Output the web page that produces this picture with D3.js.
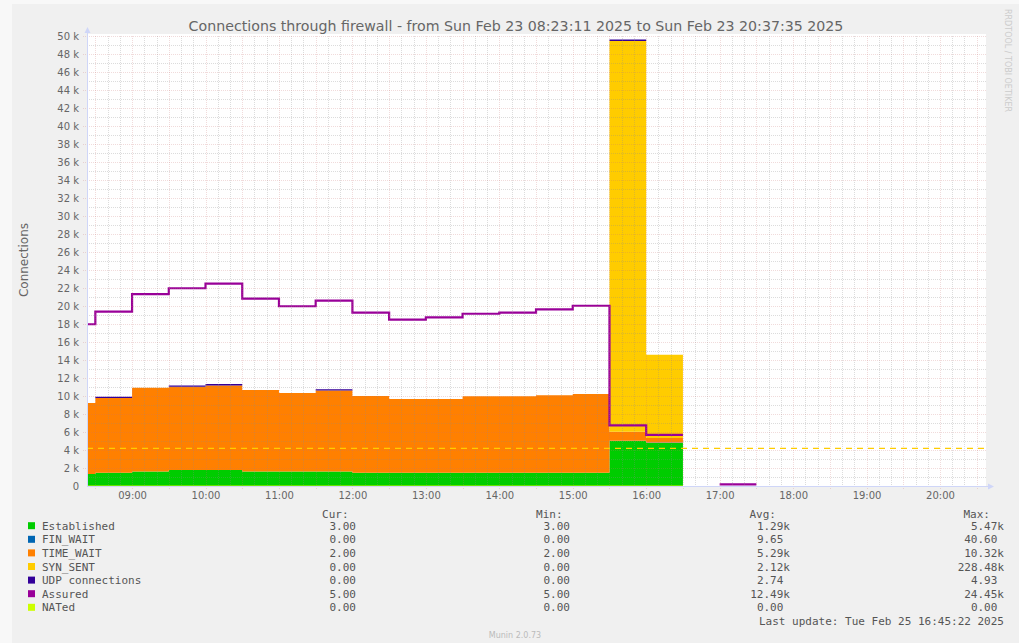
<!DOCTYPE html>
<html>
<head>
<meta charset="utf-8">
<script src="https://cdn.jsdelivr.net/npm/d3@7/dist/d3.min.js"></script>
<style>
  body { margin: 0; background: #f8f8f8; }
  svg { display: block; }
</style>
</head>
<body>
<svg id="chart" width="1019" height="643"></svg>
<script>
// 30 minute buckets (start times), Sun Feb 23 2025
var bucketStarts = ["08:00", "08:30", "09:00", "09:30", "10:00", "10:30", "11:00", "11:30", "12:00",
  "12:30", "13:00", "13:30", "14:00", "14:30", "15:00", "15:30", "16:00", "16:30", "17:00"];

var established = [1330, 1480, 1600, 1780, 1780, 1600, 1600, 1600, 1470, 1470, 1470, 1470, 1470, 1470, 1470, 5000, 4780, null, null];
var finWait     = [0, 0, 0, 0, 0, 0, 0, 0, 0, 0, 0, 0, 0, 0, 0, 30, 40, null, null];
var timeWait    = [7890, 8300, 9320, 9250, 9400, 9070, 8730, 9000, 8530, 8200, 8200, 8500, 8500, 8610, 8750, 1000, 500, null, null];
var synSent     = [0, 0, 0, 0, 0, 0, 0, 0, 0, 0, 0, 0, 0, 0, 0, 43420, 9250, null, null];
var udp         = [0, 150, 0, 150, 150, 0, 0, 150, 0, 0, 0, 0, 0, 0, 0, 150, 0, null, null];
var assured     = [17970, 19370, 21330, 21970, 22480, 20810, 19970, 20590, 19260, 18480, 18740, 19140, 19260, 19630, 20030, 6740, 5670, null, 170];
var nated       = [0, 0, 0, 0, 0, 0, 0, 0, 0, 0, 0, 0, 0, 0, 0, 0, 0, null, null];
var warning = 4180;

var legendNames  = ["Established", "FIN_WAIT", "TIME_WAIT", "SYN_SENT", "UDP connections", "Assured", "NATed"];
var legendColors = ["#00cc00", "#0066b3", "#ff8000", "#ffcc00", "#330099", "#990099", "#ccff00"];
var curValues = ["3.00", "0.00", "2.00", "0.00", "0.00", "5.00", "0.00"];
var minValues = ["3.00", "0.00", "2.00", "0.00", "0.00", "5.00", "0.00"];
var avgValues = ["1.29k", "9.65", "5.29k", "2.12k", "2.74", "12.49k", "0.00"];
var maxValues = ["5.47k", "40.60", "10.32k", "228.48k", "4.93", "24.45k", "0.00"];

var titleText = "Connections through firewall - from Sun Feb 23 08:23:11 2025 to Sun Feb 23 20:37:35 2025";
var lastUpdate = "Last update: Tue Feb 25 16:45:22 2025";

var svg = d3.select('#chart');
var plotLeft = 87, plotRight = 986, plotTop = 36, plotBottom = 486;
var fontColor = '#666666';

var parseTime = d3.timeParse('%Y-%m-%d %H:%M');
var startTime = new Date(2025, 1, 23, 8, 23, 11);
var endTime = new Date(2025, 1, 23, 20, 37, 35);

var x = d3.scaleTime().domain([startTime, endTime]).range([plotLeft, plotRight]);
var y = d3.scaleLinear().domain([0, 50000]).range([plotBottom, plotTop]);

var rows = bucketStarts.map(function (s, i) {
  var start = parseTime('2025-02-23 ' + s);
  return {
    start: start,
    end: d3.timeMinute.offset(start, 30),
    established: established[i],
    finWait: finWait[i],
    timeWait: timeWait[i],
    synSent: synSent[i],
    udp: udp[i],
    assured: assured[i],
    nated: nated[i]
  };
});

// background
svg.append('rect').attr('x', 12).attr('y', 4).attr('width', 1007).attr('height', 639).attr('fill', '#f0f0f0');
svg.append('rect').attr('x', plotLeft).attr('y', plotTop - 2).attr('width', plotRight - plotLeft)
  .attr('height', plotBottom - plotTop + 2).attr('fill', '#ffffff');

svg.append('defs').append('clipPath').attr('id', 'plotClip')
  .append('rect').attr('x', plotLeft).attr('y', 0).attr('width', plotRight - plotLeft).attr('height', plotBottom);

var plot = svg.append('g').attr('clip-path', 'url(#plotClip)');

// stacked areas
var keys = ['established', 'finWait', 'timeWait', 'synSent', 'udp'];
var stack = d3.stack().keys(keys)
  .value(function (d, k) { return d[k] == null ? 0 : d[k]; });
var series = stack(rows);

function steps(arr) {
  var out = [];
  arr.forEach(function (p) {
    var ok = p.data.established != null;
    out.push({ t: p.data.start, y0: p[0], y1: p[1], ok: ok });
    out.push({ t: p.data.end, y0: p[0], y1: p[1], ok: ok });
  });
  return out;
}

var area = d3.area()
  .defined(function (d) { return d.ok; })
  .x(function (d) { return x(d.t); })
  .y0(function (d) { return y(d.y0); })
  .y1(function (d) { return y(d.y1); });

plot.selectAll('.area')
  .data(series)
  .enter().append('path')
  .attr('class', 'area')
  .attr('d', function (s) { return area(steps(s)); })
  .attr('fill', function (s, i) { return legendColors[i]; });

// grid on top of areas (rrdtool style)
var grid = svg.append('g');
var minorX = x.ticks(d3.timeMinute.every(10)).filter(function (t) { return t.getMinutes() % 30 !== 0; });
var majorX = x.ticks(d3.timeMinute.every(30));
var minorY = d3.range(1000, 50001, 2000);
var majorY = d3.range(2000, 50001, 2000);
var minorColor = 'rgba(140,140,140,0.3)', majorColor = 'rgba(200,110,110,0.25)';

grid.selectAll('.gx').data(minorX).enter().append('line')
  .attr('x1', function (d) { return Math.round(x(d)) + 0.5; })
  .attr('x2', function (d) { return Math.round(x(d)) + 0.5; })
  .attr('y1', plotTop).attr('y2', plotBottom)
  .attr('stroke', minorColor).attr('stroke-dasharray', '1,1');
grid.selectAll('.gy').data(minorY).enter().append('line')
  .attr('x1', plotLeft).attr('x2', plotRight)
  .attr('y1', function (d) { return Math.round(y(d)) + 0.5; })
  .attr('y2', function (d) { return Math.round(y(d)) + 0.5; })
  .attr('stroke', minorColor).attr('stroke-dasharray', '1,1');
grid.selectAll('.mx').data(majorX).enter().append('line')
  .attr('x1', function (d) { return Math.round(x(d)) + 0.5; })
  .attr('x2', function (d) { return Math.round(x(d)) + 0.5; })
  .attr('y1', plotTop).attr('y2', plotBottom + 4)
  .attr('stroke', majorColor).attr('stroke-dasharray', '1,1');
grid.selectAll('.my').data(majorY).enter().append('line')
  .attr('x1', plotLeft - 4).attr('x2', plotRight)
  .attr('y1', function (d) { return Math.round(y(d)) + 0.5; })
  .attr('y2', function (d) { return Math.round(y(d)) + 0.5; })
  .attr('stroke', majorColor).attr('stroke-dasharray', '1,1');

// warning rule
svg.append('line')
  .attr('x1', plotLeft).attr('x2', plotRight)
  .attr('y1', y(warning)).attr('y2', y(warning))
  .attr('stroke', '#ffcc00').attr('stroke-width', 1.2)
  .attr('stroke-dasharray', '6,5');

// lines
function lineSteps(key) {
  var out = [];
  rows.forEach(function (r) {
    out.push({ t: r.start, v: r[key] });
    out.push({ t: r.end, v: r[key] });
  });
  return out;
}
var line = d3.line()
  .defined(function (d) { return d.v != null; })
  .x(function (d) { return x(d.t); })
  .y(function (d) { return y(d.v); });

plot.append('path')
  .attr('d', line(lineSteps('nated')))
  .attr('fill', 'none').attr('stroke', legendColors[6]).attr('stroke-width', 1);

plot.append('path')
  .attr('d', line(lineSteps('assured')))
  .attr('fill', 'none').attr('stroke', legendColors[5]).attr('stroke-width', 2.2);

// axis lines + arrows
var axisColor = '#cfd6f8';
svg.append('line').attr('x1', plotLeft + 0.5).attr('x2', plotLeft + 0.5).attr('y1', plotBottom).attr('y2', 32)
  .attr('stroke', axisColor);
svg.append('path').attr('d', 'M' + (plotLeft - 2.5) + ',33L' + (plotLeft + 3.5) + ',33L' + (plotLeft + 0.5) + ',27Z')
  .attr('fill', axisColor);
svg.append('line').attr('x1', plotLeft).attr('x2', 989).attr('y1', plotBottom + 0.5).attr('y2', plotBottom + 0.5)
  .attr('stroke', axisColor);
svg.append('path').attr('d', 'M988,' + (plotBottom - 2.5) + 'L988,' + (plotBottom + 3.5) + 'L994,' + (plotBottom + 0.5) + 'Z')
  .attr('fill', axisColor);

// axis labels
var yAxis = d3.axisLeft(y)
  .tickValues(d3.range(0, 50001, 2000))
  .tickFormat(function (d) { return d === 0 ? '0' : (d / 1000) + ' k'; })
  .tickSize(0).tickPadding(8);
var gy = svg.append('g').attr('transform', 'translate(' + plotLeft + ',0)').call(yAxis);
gy.select('.domain').remove();
gy.selectAll('text').attr('fill', fontColor).style('font', '10px "DejaVu Sans"');

var xAxis = d3.axisBottom(x)
  .ticks(d3.timeHour.every(1))
  .tickFormat(d3.timeFormat('%H:%M'))
  .tickSize(0).tickPadding(6);
var gx = svg.append('g').attr('transform', 'translate(0,' + plotBottom + ')').call(xAxis);
gx.select('.domain').remove();
gx.selectAll('text').attr('fill', fontColor).style('font', '10px "DejaVu Sans"');

// title and labels
svg.append('text').attr('x', 516).attr('y', 31).attr('text-anchor', 'middle')
  .attr('fill', fontColor).style('font', '14.2px "DejaVu Sans"').text(titleText);
svg.append('text').attr('transform', 'translate(28,260) rotate(-90)').attr('text-anchor', 'middle')
  .attr('fill', fontColor).style('font', '12px "DejaVu Sans"').text('Connections');
svg.append('text').attr('transform', 'translate(1005,9) rotate(90)')
  .attr('fill', '#cccccc').style('font', '8px "DejaVu Sans"').text('RRDTOOL / TOBI OETIKER');

// legend
var mono = '11px "DejaVu Sans Mono"';
var rowY = function (i) { return 529.7 + i * 13.6; };
var cols = [
  { head: 'Cur:', edge: 362.6, vals: curValues },
  { head: 'Min:', edge: 576.6, vals: minValues },
  { head: 'Avg:', edge: 790, vals: avgValues },
  { head: 'Max:', edge: 1004, vals: maxValues }
];
var legend = svg.append('g').attr('fill', '#555555').style('font', mono);

cols.forEach(function (c) {
  legend.append('text').attr('x', c.edge - 14).attr('y', 517.5).attr('text-anchor', 'end').text(c.head);
  c.vals.forEach(function (v, i) {
    var s = /k$/.test(v) ? v : v + ' ';
    legend.append('text').attr('xml:space', 'preserve')
      .attr('x', c.edge).attr('y', rowY(i)).attr('text-anchor', 'end').text(s);
  });
});

legendNames.forEach(function (n, i) {
  legend.append('rect').attr('x', 28).attr('y', rowY(i) - 7.5).attr('width', 7).attr('height', 7)
    .attr('fill', legendColors[i]);
  legend.append('text').attr('x', 42).attr('y', rowY(i)).text(n);
});

legend.append('text').attr('x', 1004).attr('y', 625).attr('text-anchor', 'end').text(lastUpdate);

svg.append('text').attr('x', 515).attr('y', 638).attr('text-anchor', 'middle')
  .attr('fill', '#bbbbbb').style('font', '8px "DejaVu Sans"').text('Munin 2.0.73');
</script>
</body>
</html>
